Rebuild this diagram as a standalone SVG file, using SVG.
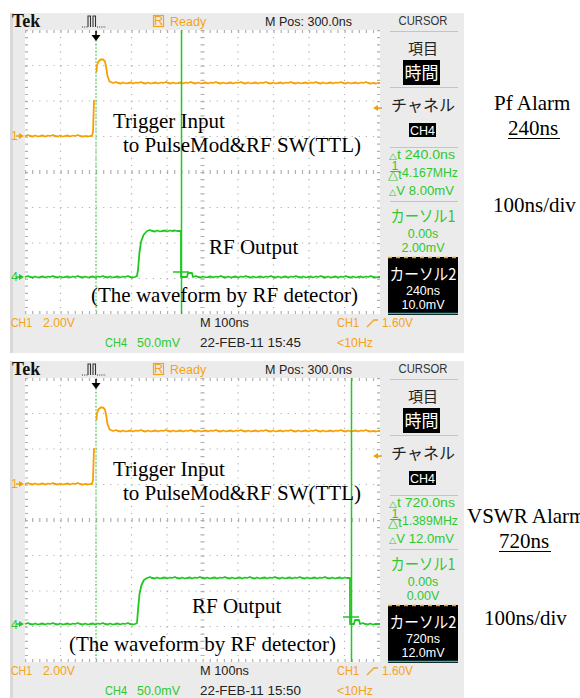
<svg xmlns="http://www.w3.org/2000/svg" xmlns:xlink="http://www.w3.org/1999/xlink" width="580" height="698" viewBox="0 0 580 698">
<style>
.ui{font-family:"Liberation Sans",Arial,sans-serif;font-size:12.5px}
.jp{font-family:"Noto Sans CJK JP",sans-serif}
.tek{font-family:"Liberation Serif","Times New Roman",serif;font-weight:bold;font-size:18px;fill:#111}
.or{fill:#f5a31a}
.gt{fill:#2fc82f}
.dk{fill:#222}
.wt{fill:#fff}
.mid{text-anchor:middle}
.ser{font-family:"Liberation Serif","Times New Roman",serif;font-size:21px;fill:#000}
.trO{fill:none;stroke:#f7a000;stroke-width:1.8;stroke-linejoin:round}
.trG{fill:none;stroke:#1ec81e;stroke-width:1.8;stroke-linejoin:round}
.dot{stroke:#b0b0b0;stroke-width:1.2;stroke-dasharray:1.2 5.9}
.tick{stroke:#b0b0b0;stroke-width:4;stroke-dasharray:1.2 5.9}
.edge{stroke:#b0b0b0;stroke-width:3;stroke-dasharray:1.2 5.9}
.sep{stroke:#c4c4c4;stroke-width:1}
.cur{stroke:#22c822;stroke-width:1.5}
</style>
<defs>
<g id="frame">
  <rect x="10" y="13" width="454" height="340" fill="#ebebeb"/>
  <rect x="10" y="13" width="3" height="340" fill="#d9d9d9"/>
  <rect x="25" y="30" width="355" height="284" fill="#fff"/>
  <g id="grid">
    <path class="dot" d="M60.5,30V314M96,30V314M131.5,30V314M167,30V314M238,30V314M273.5,30V314M309,30V314M344.5,30V314"/>
    <path class="dot" d="M25,65.5H380M25,101H380M25,136.5H380M25,207.5H380M25,243H380M25,278.5H380"/>
    <path class="tick" d="M25,172H380M202.5,30V314"/>
    <path class="edge" d="M25,31.5H380M25,312.5H380M26.5,30V314M378.5,30V314"/>
  </g>
  <path d="M96,40V314" stroke="#4ccc4c" stroke-width="1" stroke-dasharray="2 1.5"/>
  <path d="M96,31V36" stroke="#000" stroke-width="1.5"/>
  <polygon points="91.5,35 100.5,35 96,41" fill="#000"/>
  <!-- top bar -->
  <text x="12" y="27" class="tek">Tek</text>
  <path d="M82,27H88M97,27H106" stroke="#333" stroke-width="1.2" stroke-dasharray="1 1.2"/>
  <path d="M88,27V16H90.5V27M93,27V16H95.5V27" fill="none" stroke="#333" stroke-width="1.1"/>
  <rect x="153.5" y="15.5" width="10" height="11" fill="none" stroke="#f5a31a" stroke-width="1.2"/>
  <text x="158.5" y="25" class="ui or mid" font-size="10">R</text>
  <text x="170" y="26" class="ui or" font-size="13">Ready</text>
  <text x="265" y="26" class="ui dk" textLength="87" lengthAdjust="spacingAndGlyphs" font-size="13">M Pos: 300.0ns</text>
  <!-- panel -->
  <text x="423" y="25" class="ui mid" font-size="12.5" fill="#333" textLength="49" lengthAdjust="spacingAndGlyphs">CURSOR</text>
  <path class="sep" d="M390,31.5H458M390,87.5H458M390,147.5H458M390,201.5H458"/>
  <text x="423" y="54" class="jp mid dk" font-size="15">項目</text>
  <rect x="403" y="60" width="37" height="25" fill="#000"/>
  <text x="421.5" y="79" class="jp mid wt" font-size="17">時間</text>
  <text x="423" y="111" class="jp mid dk" font-size="16">チャネル</text>
  <rect x="409" y="123" width="27" height="14" fill="#000"/>
  <text x="422.5" y="134.5" class="ui mid wt" font-size="11.5">CH4</text>
  <text x="423" y="222" class="jp mid gt" font-size="16" textLength="65" lengthAdjust="spacingAndGlyphs">カーソル1</text>
  <rect x="388" y="257" width="70" height="58" fill="#000"/>
  <path d="M388,257.5H458" stroke="#f5a31a" stroke-width="1.5" stroke-dasharray="4 4"/>
  <path d="M388,313.5H458" stroke="#2ab8b8" stroke-width="1.5"/>
  <text x="423" y="280" class="jp mid wt" font-size="16" textLength="67" lengthAdjust="spacingAndGlyphs">カーソル2</text>
  <path d="M390,171.5H400" stroke="#2fc82f" stroke-width="1"/>
  <text x="395" y="170" class="ui mid gt" font-size="7.5">1</text>
  <text x="395" y="179" class="ui mid gt" font-size="7.5">△t</text>
  <!-- trigger level arrow -->
  <polygon points="373,108 378,105 378,111" fill="#f5a000"/>
  <path d="M378,108H382" stroke="#f5a000" stroke-width="1.5"/>
  <!-- channel markers -->
  <text x="11" y="140" class="ui or" font-size="11">1</text>
  <path d="M16,136H20" stroke="#f5a000" stroke-width="1.5"/>
  <polygon points="19,133 24,136 19,139" fill="#f5a000"/>
  <text x="11" y="281" class="ui gt" font-size="11">4</text>
  <!-- bottom bar -->
  <text x="11" y="327" class="ui or" font-size="13" textLength="21" lengthAdjust="spacingAndGlyphs">CH1</text>
  <text x="43" y="327" class="ui or" font-size="13" textLength="32" lengthAdjust="spacingAndGlyphs">2.00V</text>
  <text x="105" y="347" class="ui gt" font-size="13" textLength="22" lengthAdjust="spacingAndGlyphs">CH4</text>
  <text x="137" y="347" class="ui gt" font-size="13" textLength="43" lengthAdjust="spacingAndGlyphs">50.0mV</text>
  <text x="200" y="327" class="ui dk" font-size="13" textLength="49" lengthAdjust="spacingAndGlyphs">M 100ns</text>
  <text x="337" y="327" class="ui or" font-size="13" textLength="22" lengthAdjust="spacingAndGlyphs">CH1</text>
  <path d="M367,327L374,320H378" fill="none" stroke="#f5a31a" stroke-width="1.3"/>
  <text x="382" y="327" class="ui or" font-size="13" textLength="31" lengthAdjust="spacingAndGlyphs">1.60V</text>
  <text x="337" y="347" class="ui or" font-size="13" textLength="36" lengthAdjust="spacingAndGlyphs">&lt;10Hz</text>
  <!-- orange trace -->
  <path class="trO" d="M25,136 l3,-1 l2,1 l3,0.5 l2,-1 l3,1 l2,-0.5 l3,-0.5 l2,1 l3,-1 l2,0.5 l3,-1 l2,1 l3,0.5 l2,-1 l3,1 l2,-0.5 l3,-0.5 l2,1 l3,-1 l2,0.5 l3,-1 l2,1 l3,0.5 l2,-0.5 l3,0.5 l2,-0.5 l2,0 L93,132 L94,100 M96.5,72 L97,65 L98.5,61.5 L100.5,59.5 L103,59.5 L105,61.5 L106.3,68 L107.5,76 L109.5,81.5 L113,83 l3,-1 l2,1 l3,0.5 l2,-1 l3,1 l2,-0.5 l3,-0.5 l2,1 l3,-1 l2,0.5 l3,-1 l2,1 l3,0.5 l2,-1 l3,1 l2,-0.5 l3,-0.5 l2,1 l3,-1 l2,0.5 l3,-1 l2,1 l3,0.5 l2,-1 l3,1 l2,-0.5 l3,-0.5 l2,1 l3,-1 l2,0.5 l3,-1 l2,1 l3,0.5 l2,-1 l3,1 l2,-0.5 l3,-0.5 l2,1 l3,-1 l2,0.5 l3,-1 l2,1 l3,0.5 l2,-1 l3,1 l2,-0.5 l3,-0.5 l2,1 l3,-1 l2,0.5 l3,-1 l2,1 l3,0.5 l2,-1 l3,1 l2,-0.5 l3,-0.5 l2,1 l3,-1 l2,0.5 l3,-1 l2,1 l3,0.5 l2,-1 l3,1 l2,-0.5 l3,-0.5 l2,1 l3,-1 l2,0.5 l3,-1 l2,1 l3,0.5 l2,-1 l3,1 l2,-0.5 l3,-0.5 l2,1 l3,-1 l2,0.5 l3,-1 l2,1 l3,0.5 l2,-1 l3,1 l2,-0.5 l3,-0.5 l2,1 l3,-1 l2,0.5 l3,-1 l2,1 l3,0.5 l2,-1 l3,1 l2,-0.5 l3,-0.5 l2,1 l3,-1 l2,0.5 l3,-1 l2,1 l3,0.5 l2,-0.5 l3,0.5 l2,-0.5 l2,0"/>
</g>
</defs>

<g id="scope-pf">
  <use xlink:href="#frame" href="#frame"/>
  <path d="M16,277H20" stroke="#1ec81e" stroke-width="1.5"/>
  <polygon points="19,274 24,277 19,280" fill="#1ec81e"/>
  <path class="trG" d="M25,277 l3,-1 l2,1 l3,0.5 l2,-1 l3,1 l2,-0.5 l3,-0.5 l2,1 l3,-1 l2,0.5 l3,-1 l2,1 l3,0.5 l2,-1 l3,1 l2,-0.5 l3,-0.5 l2,1 l3,-1 l2,0.5 l3,-1 l2,1 l3,0.5 l2,-1 l3,1 l2,-0.5 l3,-0.5 l2,1 l3,-1 l2,0.5 l3,-1 l2,1 l3,0.5 l2,-1 l3,1 l2,-0.5 l3,-0.5 l2,1 l3,-1 l2,0.5 l3,-1 l2,1 l3,0.5 l2,-0.5 L137,276 L138,270 L139.5,252 L141,242 L143.5,235 L147,231 l3,-1 l2,1 l3,0.5 l2,-1 l3,1 l2,-0.5 l3,-0.5 l2,1 l3,-1 l2,0.5 l3,-0.5 l2,0.5 l3,0 L181,231 L181,277 l6,0 l1,-4 l4,0 l1,4 l3,-1 l2,1 l3,0.5 l2,-1 l3,1 l2,-0.5 l3,-0.5 l2,1 l3,-1 l2,0.5 l3,-1 l2,1 l3,0.5 l2,-1 l3,1 l2,-0.5 l3,-0.5 l2,1 l3,-1 l2,0.5 l3,-1 l2,1 l3,0.5 l2,-1 l3,1 l2,-0.5 l3,-0.5 l2,1 l3,-1 l2,0.5 l3,-1 l2,1 l3,0.5 l2,-1 l3,1 l2,-0.5 l3,-0.5 l2,1 l3,-1 l2,0.5 l3,-1 l2,1 l3,0.5 l2,-1 l3,1 l2,-0.5 l3,-0.5 l2,1 l3,-1 l2,0.5 l3,-1 l2,1 l3,0.5 l2,-1 l3,1 l2,-0.5 l3,-0.5 l2,1 l3,-1 l2,0.5 l3,-1 l2,1 l3,0.5 l2,-1 l3,1 l2,-0.5 l3,-0.5 l2,1 l3,-1 l2,0.5 l3,-1 l2,1 l3,0.5 l2,-0.5 l2,0"/>
  <path class="cur" d="M181.5,30V314M173,272H189"/>
  <text x="389" y="159" class="ui gt" font-size="12.5" textLength="66" lengthAdjust="spacingAndGlyphs"><tspan font-size="9">△</tspan>t 240.0ns</text>
  <text x="402" y="177" class="ui gt" font-size="12.5" textLength="56" lengthAdjust="spacingAndGlyphs">4.167MHz</text>
  <text x="389" y="195" class="ui gt" font-size="12.5" textLength="65" lengthAdjust="spacingAndGlyphs"><tspan font-size="9">△</tspan>V 8.00mV</text>
  <text x="423" y="238" class="ui gt mid" font-size="12.5">0.00s</text>
  <text x="423" y="252" class="ui gt mid" font-size="12.5">2.00mV</text>
  <text x="423" y="295" class="ui wt mid" font-size="12">240ns</text>
  <text x="423" y="309" class="ui wt mid" font-size="12">10.0mV</text>
  <text x="200" y="347" class="ui dk" font-size="13" textLength="101" lengthAdjust="spacingAndGlyphs">22-FEB-11 15:45</text>
  <text x="113" y="128" class="ser">Trigger Input</text>
  <text x="123" y="152" class="ser">to PulseMod&amp;RF SW(TTL)</text>
  <text x="209" y="254" class="ser">RF Output</text>
  <text x="91" y="302" class="ser">(The waveform by RF detector)</text>
  <text x="494" y="110" class="ser">Pf Alarm</text>
  <text x="508" y="135" class="ser">240ns</text>
  <path d="M508,138.5H560" stroke="#000" stroke-width="1"/>
  <text x="493" y="212" class="ser">100ns/div</text>
</g>

<g id="scope-vswr" transform="translate(0,348)">
  <use xlink:href="#frame" href="#frame"/>
  <path d="M16,276H20" stroke="#1ec81e" stroke-width="1.5"/>
  <polygon points="19,273 24,276 19,279" fill="#1ec81e"/>
  <path class="trG" d="M25,276 l3,-1 l2,1 l3,0.5 l2,-1 l3,1 l2,-0.5 l3,-0.5 l2,1 l3,-1 l2,0.5 l3,-1 l2,1 l3,0.5 l2,-1 l3,1 l2,-0.5 l3,-0.5 l2,1 l3,-1 l2,0.5 l3,-1 l2,1 l3,0.5 l2,-1 l3,1 l2,-0.5 l3,-0.5 l2,1 l3,-1 l2,0.5 l3,-1 l2,1 l3,0.5 l2,-1 l3,1 l2,-0.5 l3,-0.5 l2,1 l3,-1 l2,0.5 l3,-1 l2,1 l3,0.5 l2,-0.5 L137,275 L138,262 L139.5,246 L141.5,237 L144,232 L147,230 l3,-1 l2,1 l3,0.5 l2,-1 l3,1 l2,-0.5 l3,-0.5 l2,1 l3,-1 l2,0.5 l3,-1 l2,1 l3,0.5 l2,-1 l3,1 l2,-0.5 l3,-0.5 l2,1 l3,-1 l2,0.5 l3,-1 l2,1 l3,0.5 l2,-1 l3,1 l2,-0.5 l3,-0.5 l2,1 l3,-1 l2,0.5 l3,-1 l2,1 l3,0.5 l2,-1 l3,1 l2,-0.5 l3,-0.5 l2,1 l3,-1 l2,0.5 l3,-1 l2,1 l3,0.5 l2,-1 l3,1 l2,-0.5 l3,-0.5 l2,1 l3,-1 l2,0.5 l3,-1 l2,1 l3,0.5 l2,-1 l3,1 l2,-0.5 l3,-0.5 l2,1 l3,-1 l2,0.5 l3,-1 l2,1 l3,0.5 l2,-1 l3,1 l2,-0.5 l3,-0.5 l2,1 l3,-1 l2,0.5 l3,-1 l2,1 l3,0.5 l2,-1 l3,1 l2,-0.5 l3,-0.5 l2,1 l3,-1 l2,0.5 l2,0 L350,230 L350,276 l4,0 l1,-4 l4,0 l1,4 l3,-1 l2,1 l3,0.5 l2,-1 l3,1 l2,-0.5 l3,0 l2,0"/>
  <path class="cur" d="M351.5,30V314M343,269H359"/>
  <text x="389" y="159" class="ui gt" font-size="12.5" textLength="66" lengthAdjust="spacingAndGlyphs"><tspan font-size="9">△</tspan>t 720.0ns</text>
  <text x="402" y="177" class="ui gt" font-size="12.5" textLength="56" lengthAdjust="spacingAndGlyphs">1.389MHz</text>
  <text x="389" y="195" class="ui gt" font-size="12.5" textLength="65" lengthAdjust="spacingAndGlyphs"><tspan font-size="9">△</tspan>V 12.0mV</text>
  <text x="423" y="238" class="ui gt mid" font-size="12.5">0.00s</text>
  <text x="423" y="252" class="ui gt mid" font-size="12.5">0.00V</text>
  <text x="423" y="295" class="ui wt mid" font-size="12">720ns</text>
  <text x="423" y="309" class="ui wt mid" font-size="12">12.0mV</text>
  <text x="200" y="347" class="ui dk" font-size="13" textLength="101" lengthAdjust="spacingAndGlyphs">22-FEB-11 15:50</text>
  <text x="113" y="128" class="ser">Trigger Input</text>
  <text x="123" y="152" class="ser">to PulseMod&amp;RF SW(TTL)</text>
  <text x="192" y="265" class="ser">RF Output</text>
  <text x="69" y="303" class="ser">(The waveform by RF detector)</text>
  <text x="467" y="175" class="ser">VSWR Alarm</text>
  <text x="499" y="200" class="ser">720ns</text>
  <path d="M499,203.5H551" stroke="#000" stroke-width="1"/>
  <text x="484" y="277" class="ser">100ns/div</text>
</g>
</svg>
